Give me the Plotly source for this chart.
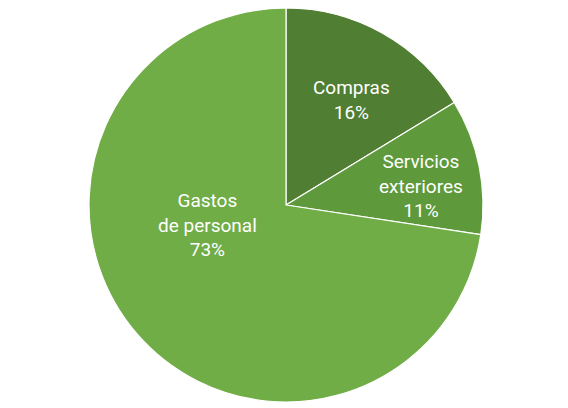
import plotly.graph_objects as go

# Cost breakdown (% share)
labels = ["Compras", "Servicios exteriores", "Gastos de personal"]
label_text = ["Compras", "Servicios<br>exteriores", "Gastos<br>de personal"]
values = [16.3, 11.1, 72.6]
colors = ["#507e32", "#5e9a3b", "#70ad47"]

# label anchor points (paper coords)
label_x = [0.6056, 0.7271, 0.3504]
label_y = [0.7745, 0.5637, 0.4681]

fig = go.Figure(go.Pie(
    labels=labels,
    values=values,
    sort=False,
    direction="clockwise",
    rotation=0,
    marker=dict(colors=colors, line=dict(color="white", width=1.2)),
    textinfo="none",
    hoverinfo="label+percent",
    domain=dict(x=[0.1426, 0.8363], y=[0.0343, 1.0]),
))

total = sum(values)
for txt, v, x, y in zip(label_text, values, label_x, label_y):
    fig.add_annotation(
        x=x, y=y, xref="paper", yref="paper",
        xanchor="center", yanchor="middle",
        text=f"{txt}<br>{round(100 * v / total)}%",
        showarrow=False,
        font=dict(family="Roboto", size=19, color="white"),
        align="center",
    )

fig.update_layout(
    width=568,
    height=408,
    margin=dict(l=0, r=0, t=0, b=0),
    showlegend=False,
    paper_bgcolor="white",
)

fig.write_html("out.html")
